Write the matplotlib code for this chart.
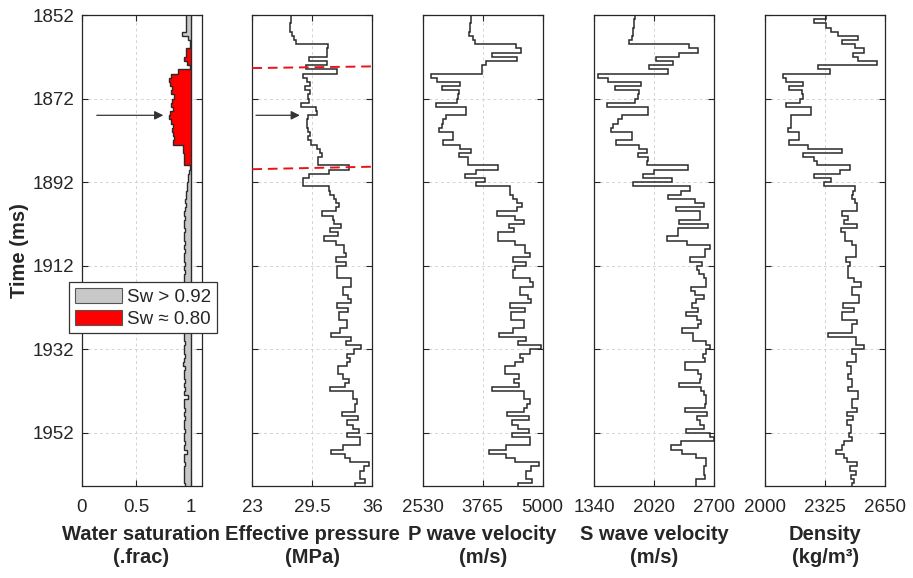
import numpy as np
import matplotlib
matplotlib.use("Agg")
import matplotlib.pyplot as plt
from matplotlib.patches import Patch

plt.rcParams['font.family'] = ['Liberation Sans', 'DejaVu Sans']

# ---------------- data (one value per 1 ms, 1852 -> 1965) ----------------
t_start = 1852
t_stop = 1965
time_edges = np.arange(t_start, t_stop + 1)

sw = [0.96, 0.96, 0.96, 0.96, 0.92, 0.975, 0.99, 0.99, 0.96, 0.955,
      0.94, 0.965, 0.995, 0.88, 0.82, 0.80, 0.81, 0.83, 0.82, 0.85,
      0.83, 0.82, 0.84, 0.81, 0.80, 0.82, 0.84, 0.83, 0.84, 0.85,
      0.84, 0.93, 0.93, 0.94, 0.94, 0.94, 0.99, 0.985, 0.98, 0.975,
      0.97, 0.965, 0.96, 0.955, 0.95, 0.955, 0.945, 0.94, 0.945, 0.935,
      0.94, 0.945, 0.94, 0.935, 0.945, 0.94, 0.95, 0.94, 0.935, 0.945,
      0.94, 0.945, 0.935, 0.94, 0.95, 0.945, 0.94, 0.935, 0.945, 0.94,
      0.945, 0.935, 0.94, 0.945, 0.94, 0.95, 0.935, 0.94, 0.945, 0.94,
      0.935, 0.945, 0.94, 0.93, 0.945, 0.94, 0.935, 0.945, 0.94, 0.95,
      0.94, 0.975, 0.94, 0.935, 0.945, 0.94, 0.945, 0.935, 0.94, 0.945,
      0.94, 0.935, 0.945, 0.94, 0.97, 0.94, 0.935, 0.945, 0.94, 0.935,
      0.94, 0.935, 0.945]

# intervals (ms) shown in red (Sw ~ 0.80)
gas_zones = [(1860, 1864), (1865, 1888)]

eff_pressure = [27.2, 27.2, 27.1, 27.1, 27.35, 27.5, 27.7, 31.2, 31.1, 31.1,
                29.15, 31.1, 28.8, 32.2, 28.5, 28.9, 29.2, 28.7, 29.2, 29.05,
                29.15, 28.3, 29.9, 30.05, 29.05, 28.9, 28.9, 29.05, 29.2, 29.05,
                29.4, 30.0, 30.3, 30.5, 30.1, 30.1, 33.5, 31.3, 29.15, 28.5,
                28.5, 31.3, 31.45, 31.8, 32.1, 32.4, 32.1, 30.5, 31.7, 31.9,
                32.6, 31.45, 32.3, 30.73, 32.1, 32.9, 32.9, 33.1, 32.03, 33.1,
                32.17, 32.17, 32.17, 33.72, 33.72, 32.82, 32.82, 33.36, 33.72, 32.17,
                33.36, 32.39, 32.39, 33.25, 33.25, 32.46, 31.56, 33.72, 33.1, 34.8,
                33.97, 33.25, 33.54, 33.25, 32.28, 32.28, 32.82, 33.47, 33.0, 31.38,
                33.9, 33.9, 34.33, 34.08, 34.08, 32.75, 34.44, 33.25, 33.9, 34.55,
                33.25, 34.7, 34.7, 32.82, 31.56, 33.0, 33.6, 35.6, 35.05, 34.7,
                34.7, 35.16, 34.1]

vp = [3533, 3533, 3499, 3499, 3485, 3567, 3601, 4454, 4556, 3963,
      4468, 3840, 3758, 3758, 2694, 2817, 3294, 2919, 3281, 3260,
      3226, 2803, 3417, 3417, 3008, 2953, 2919, 2871, 3158, 3158,
      2939, 3294, 3533, 3281, 3465, 3465, 4079, 3635, 3397, 3806,
      3622, 4331, 4331, 4386, 4468, 4577, 4468, 4058, 4420, 4625,
      4304, 4400, 4079, 4079, 4440, 4645, 4645, 4741, 4386, 4659,
      4420, 4386, 4386, 4741, 4809, 4536, 4536, 4693, 4761, 4331,
      4645, 4352, 4352, 4625, 4625, 4386, 4099, 4659, 4488, 4966,
      4741, 4536, 4591, 4440, 4215, 4215, 4522, 4400, 4522, 3963,
      4625, 4625, 4741, 4672, 4625, 4263, 4713, 4372, 4488, 4713,
      4372, 4741, 4741, 4249, 3895, 4249, 4420, 4932, 4761, 4659,
      4659, 4782, 4488]

vs = [1803, 1792, 1792, 1784, 1777, 1766, 1739, 2417, 2519, 2304,
      2048, 2237, 1965, 2180, 1389, 1502, 1867, 1577, 1852, 1841,
      1803, 1483, 1954, 1954, 1653, 1615, 1551, 1528, 1766, 1766,
      1589, 1852, 1943, 1841, 1954, 1943, 2406, 2018, 1898, 2229,
      1784, 2425, 2331, 2180, 2481, 2583, 2274, 2538, 2545, 2304,
      2632, 2293, 2293, 2169, 2395, 2658, 2594, 2594, 2432, 2568,
      2508, 2530, 2583, 2606, 2606, 2444, 2481, 2583, 2493, 2455,
      2519, 2380, 2508, 2557, 2519, 2342, 2463, 2463, 2606, 2658,
      2606, 2576, 2594, 2368, 2368, 2519, 2557, 2545, 2304, 2557,
      2583, 2606, 2613, 2594, 2368, 2621, 2508, 2545, 2583, 2380,
      2658, 2696, 2331, 2218, 2342, 2493, 2613, 2606, 2583, 2583,
      2594, 2500, 2500]

density = [2327, 2265, 2327, 2356, 2392, 2504, 2417, 2486, 2536, 2477,
           2500, 2603, 2287, 2350, 2098, 2110, 2206, 2128, 2200, 2206,
           2188, 2112, 2247, 2247, 2139, 2139, 2139, 2125, 2184, 2184,
           2130, 2233, 2417, 2202, 2265, 2278, 2459, 2405, 2265, 2356,
           2320, 2486, 2477, 2471, 2486, 2495, 2495, 2417, 2450, 2428,
           2495, 2410, 2432, 2432, 2471, 2489, 2489, 2489, 2435, 2459,
           2446, 2446, 2446, 2482, 2518, 2471, 2471, 2507, 2507, 2423,
           2482, 2417, 2417, 2495, 2471, 2471, 2338, 2489, 2489, 2536,
           2471, 2489, 2489, 2441, 2464, 2464, 2446, 2471, 2471, 2450,
           2504, 2504, 2468, 2468, 2495, 2441, 2477, 2441, 2464, 2464,
           2453, 2468, 2428, 2417, 2381, 2428, 2441, 2495, 2459, 2489,
           2464, 2482, 2468]

xlims = [(0, 1.1), (23, 36), (2530, 5000), (1340, 2700), (2000, 2650)]
xticks = [[0, 0.5, 1], [23, 29.5, 36], [2530, 3765, 5000],
          [1340, 2020, 2700], [2000, 2325, 2650]]
xticklabels = [["0", "0.5", "1"], ["23", "29.5", "36"],
               ["2530", "3765", "5000"], ["1340", "2020", "2700"],
               ["2000", "2325", "2650"]]
xlabels = ["Water saturation\n(.frac)", "Effective pressure\n(MPa)",
           "P wave velocity\n(m/s)", "S wave velocity\n(m/s)",
           "Density\n(kg/m³)"]
yticks = [1852, 1872, 1892, 1912, 1932, 1952]
ylim = (1964.7, 1852)

# red dashed marker lines on the pressure track: (t at left, t at right)
marker_lines = [(1864.7, 1864.3), (1888.9, 1888.3)]
arrow_time = 1876
arrow_x = [(0.14, 0.75), (23.4, 28.15)]

# ---------------- figure ----------------
W, H = 913, 578
fig = plt.figure(figsize=(W / 100, H / 100), dpi=100)

lefts = [81.5, 252.3, 422.7, 594, 765.3]
ax_w = 120
top_px, bot_px = 15, 486
axes = []
for lp in lefts:
    ax = fig.add_axes([lp / W, 1 - bot_px / H, ax_w / W, (bot_px - top_px) / H])
    axes.append(ax)

dark = '#262626'
line_col = '#2a2a2a'
tick_fs = 13.5
lab_fs = 14.5

series = [None, eff_pressure, vp, vs, density]

for i, ax in enumerate(axes):
    ax.set_xlim(*xlims[i])
    ax.set_ylim(*ylim)
    ax.set_xticks(xticks[i])
    ax.set_xticklabels(xticklabels[i])
    ax.set_yticks(yticks)
    if i == 0:
        ax.set_yticklabels([str(v) for v in yticks])
    else:
        ax.set_yticklabels([])
    ax.tick_params(direction='in', length=4, width=0.8, colors=dark,
                   labelsize=tick_fs, top=True, right=True)
    ax.tick_params(axis='x', pad=9.3)
    ax.tick_params(axis='y', pad=5)
    for s in ax.spines.values():
        s.set_color(dark)
        s.set_linewidth(0.9)
    ax.grid(True, linestyle=(0, (3, 3)), color='#d4d4d4', linewidth=0.7)
    ax.set_axisbelow(True)
    ax.set_xlabel(xlabels[i], fontsize=lab_fs, fontweight='bold',
                  color=dark, linespacing=1.3, labelpad=6.5)
    if series[i] is not None:
        ax.stairs(series[i], time_edges, orientation='horizontal',
                  baseline=None, color=line_col, linewidth=1.1, zorder=3)

# ---- water saturation track ----
ax = axes[0]
sw_arr = np.array(sw, dtype=float)
mids = time_edges[:-1] + 0.5
in_gas = np.zeros(len(sw_arr), dtype=bool)
for a, b in gas_zones:
    in_gas |= (mids > a) & (mids < b)
gray_vals = np.where(in_gas, 1.0, sw_arr)
red_vals = np.where(in_gas, sw_arr, 1.0)
ax.stairs(gray_vals, time_edges, orientation='horizontal', baseline=1.0,
          fill=True, color='#c8c8c8', zorder=2)
ax.stairs(red_vals, time_edges, orientation='horizontal', baseline=1.0,
          fill=True, color='#ff0000', zorder=2)
ax.stairs(sw_arr, time_edges, orientation='horizontal', baseline=None,
          color=line_col, linewidth=1.0, zorder=3)
ax.axvline(1.0, color=line_col, linewidth=1.0, zorder=3)
ax.annotate('', xy=(arrow_x[0][1], arrow_time), xytext=(arrow_x[0][0], arrow_time),
            arrowprops=dict(arrowstyle='-|>', color='#333333', lw=0.9,
                            mutation_scale=13, shrinkA=0, shrinkB=0), zorder=4)
ax.set_ylabel('Time (ms)', fontsize=lab_fs, fontweight='bold', color=dark,
              labelpad=2.5)

handles = [Patch(facecolor='#c8c8c8', edgecolor='#555555', linewidth=0.8),
           Patch(facecolor='#ff0000', edgecolor='#555555', linewidth=0.8)]
leg = fig.legend(handles, ['Sw > 0.92', 'Sw ≈ 0.80'], loc='upper left',
                 bbox_to_anchor=(69 / W, 1 - 282 / H), fontsize=13.5,
                 frameon=True, fancybox=False, framealpha=1,
                 edgecolor='#333333', handlelength=2.55, handleheight=0.9,
                 handletextpad=0.25, borderpad=0.3, labelspacing=0.2,
                 borderaxespad=0)
leg.get_frame().set_linewidth(0.9)
for txt in leg.get_texts():
    txt.set_color(dark)

# ---- pressure track markers ----
ax = axes[1]
for tl, tr in marker_lines:
    ax.plot(xlims[1], [tl, tr], color='#e8141c', linestyle=(0, (5, 3)),
            linewidth=1.4, zorder=4)
ax.annotate('', xy=(arrow_x[1][1], arrow_time), xytext=(arrow_x[1][0], arrow_time),
            arrowprops=dict(arrowstyle='-|>', color='#333333', lw=0.9,
                            mutation_scale=13, shrinkA=0, shrinkB=0), zorder=4)

fig.savefig('out.png', dpi=100, facecolor='white')
